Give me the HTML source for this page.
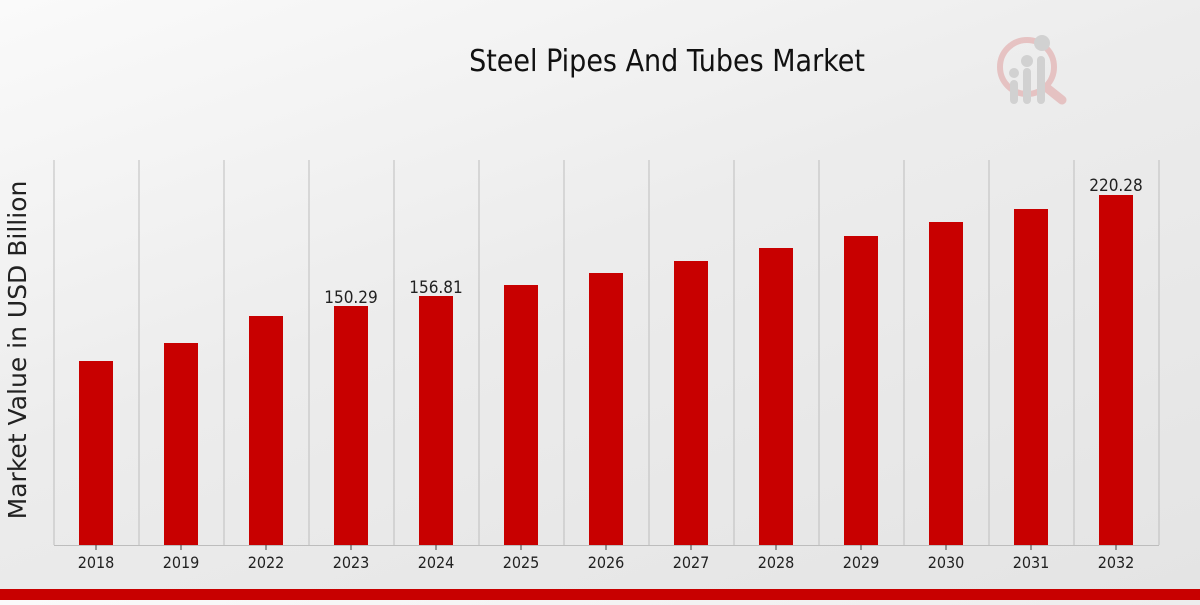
<!DOCTYPE html>
<html><head><meta charset="utf-8"><style>
html,body{margin:0;padding:0}
body{width:1200px;height:600px;overflow:hidden;background:linear-gradient(160deg,#fafafa 0%,#ececec 45%,#e4e4e4 100%);font-family:"Liberation Sans",sans-serif}
</style></head><body>
<svg width="1200" height="600" viewBox="0 0 1200 600" xmlns="http://www.w3.org/2000/svg">
<g stroke="#bdbdbd" stroke-width="1">
<line x1="54" y1="160" x2="54" y2="545"/><line x1="139" y1="160" x2="139" y2="545"/><line x1="224" y1="160" x2="224" y2="545"/><line x1="309" y1="160" x2="309" y2="545"/><line x1="394" y1="160" x2="394" y2="545"/><line x1="479" y1="160" x2="479" y2="545"/><line x1="564" y1="160" x2="564" y2="545"/><line x1="649" y1="160" x2="649" y2="545"/><line x1="734" y1="160" x2="734" y2="545"/><line x1="819" y1="160" x2="819" y2="545"/><line x1="904" y1="160" x2="904" y2="545"/><line x1="989" y1="160" x2="989" y2="545"/><line x1="1074" y1="160" x2="1074" y2="545"/><line x1="1159" y1="160" x2="1159" y2="545"/>
<line x1="54" y1="545.5" x2="1159" y2="545.5"/>
</g>
<g fill="#c80000">
<rect x="79" y="361" width="34" height="184"/><rect x="164" y="343" width="34" height="202"/><rect x="249" y="316" width="34" height="229"/><rect x="334" y="306" width="34" height="239"/><rect x="419" y="296" width="34" height="249"/><rect x="504" y="285" width="34" height="260"/><rect x="589" y="273" width="34" height="272"/><rect x="674" y="261" width="34" height="284"/><rect x="759" y="248" width="34" height="297"/><rect x="844" y="236" width="34" height="309"/><rect x="929" y="222" width="34" height="323"/><rect x="1014" y="209" width="34" height="336"/><rect x="1099" y="195" width="34" height="350"/>
<rect x="0" y="589" width="1200" height="11"/>
</g>
<g stroke="#444" stroke-width="1">
<line x1="96" y1="545" x2="96" y2="550"/><line x1="181" y1="545" x2="181" y2="550"/><line x1="266" y1="545" x2="266" y2="550"/><line x1="351" y1="545" x2="351" y2="550"/><line x1="436" y1="545" x2="436" y2="550"/><line x1="521" y1="545" x2="521" y2="550"/><line x1="606" y1="545" x2="606" y2="550"/><line x1="691" y1="545" x2="691" y2="550"/><line x1="776" y1="545" x2="776" y2="550"/><line x1="861" y1="545" x2="861" y2="550"/><line x1="946" y1="545" x2="946" y2="550"/><line x1="1031" y1="545" x2="1031" y2="550"/><line x1="1116" y1="545" x2="1116" y2="550"/>
</g>
<g font-size="16" fill="#222" text-anchor="middle" font-family="DejaVu Sans Condensed,Liberation Sans Narrow,sans-serif">
<text x="96" y="568">2018</text><text x="181" y="568">2019</text><text x="266" y="568">2022</text><text x="351" y="568">2023</text><text x="436" y="568">2024</text><text x="521" y="568">2025</text><text x="606" y="568">2026</text><text x="691" y="568">2027</text><text x="776" y="568">2028</text><text x="861" y="568">2029</text><text x="946" y="568">2030</text><text x="1031" y="568">2031</text><text x="1116" y="568">2032</text>
<text x="351" y="303" font-size="17">150.29</text><text x="436" y="293" font-size="17">156.81</text><text x="1116" y="191" font-size="17">220.28</text>
<text x="667" y="71" font-size="30" fill="#111">Steel Pipes And Tubes Market</text>
</g>
<text transform="translate(26,350) rotate(-90)" font-size="25" fill="#222" text-anchor="middle" font-family="DejaVu Sans,sans-serif">Market Value in USD Billion</text>
<g opacity="0.55">
<circle cx="1027" cy="67" r="27" fill="none" stroke="#e0a0a0" stroke-width="6"/>
<line x1="1047" y1="88" x2="1062" y2="100" stroke="#e0a0a0" stroke-width="9" stroke-linecap="round"/>
<g fill="#bbb"><rect x="1010" y="80" width="8" height="24" rx="4"/><rect x="1023" y="68" width="8" height="36" rx="4"/><rect x="1037" y="56" width="8" height="48" rx="4"/>
<circle cx="1014" cy="73" r="5"/><circle cx="1027" cy="61" r="6"/><circle cx="1042" cy="43" r="8"/></g>
</g>
</svg>
</body></html>
